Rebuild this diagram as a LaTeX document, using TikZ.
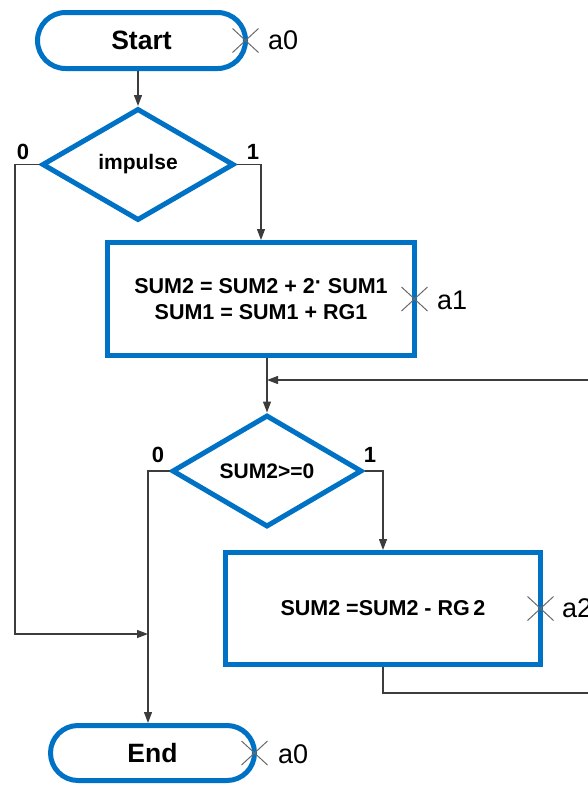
\documentclass[tikz,border=0pt]{standalone}
\usepackage{fontspec}
\setmainfont{Liberation Sans}
\usetikzlibrary{shapes.geometric,shapes.misc,arrows.meta}
\definecolor{flowblue}{RGB}{0,114,198}
\definecolor{wire}{RGB}{60,60,60}
\definecolor{crossgray}{RGB}{105,105,105}
\begin{document}
\begin{tikzpicture}[x=1pt,y=-1pt,
  terminal/.style={rounded rectangle,draw=flowblue,line width=5pt,minimum width=208pt,
    minimum height=56pt,inner sep=0pt,font=\fontsize{26.5}{30}\selectfont\bfseries},
  process/.style={rectangle,draw=flowblue,line width=5pt,minimum width=307pt,
    minimum height=113pt,inner sep=0pt,align=center,font=\fontsize{21.5}{26}\selectfont\bfseries},
  decision/.style={diamond,draw=flowblue,line width=5pt,minimum width=192pt,
    minimum height=112pt,inner sep=0pt,font=\fontsize{21}{24}\selectfont\bfseries},
  branch/.style={inner sep=0pt,font=\fontsize{22}{24}\selectfont\bfseries},
  state/.style={anchor=west,inner sep=0pt,font=\fontsize{27}{30}\selectfont},
  flow/.style={draw=wire,line width=1.3pt,-{Triangle[length=11pt,width=8pt]}},
  xcross/.pic={\draw[crossgray,line width=1pt] (-13,-12) -- (13,12) (-13,12) -- (13,-12);}
]
\clip (0,0) rectangle (588,785);

% blocks
\node[terminal] (start) at (141.5,40.5) {Start};
\node[decision] (d1) at (138,164.5) {impulse};
\node[process] (b1) at (261,299) {SUM2 = SUM2 + 2\raisebox{0.35ex}{·} SUM1\\SUM1 = SUM1 + RG1};
\node[decision,minimum width=190pt] (d2) at (267,471) {SUM2>=0};
\node[process,minimum width=315pt,minimum height=112pt] (b2) at (383,608.5) {SUM2 =SUM2 - RG\,2};
\node[terminal,minimum width=204pt,minimum height=55pt] (end) at (152.5,753) {End};

% branch labels
\node[branch] (d1no) at (23,152) {0};
\node[branch] (d1yes) at (253,152) {1};
\node[branch] (d2no) at (158,455) {0};
\node[branch] (d2yes) at (370,455) {1};

% state marks
\pic at ([xshift=-2.5pt]start.east) {xcross};
\pic at ([xshift=-2.5pt]b1.east) {xcross};
\pic at ([xshift=-2.5pt]b2.east) {xcross};
\pic at ([xshift=-2.5pt]end.east) {xcross};
\node[state] (s0) at (268,40) {a0};
\node[state] (s1) at (437,300) {a1};
\node[state] (s2) at (562,608) {a2};
\node[state] (s3) at (278,754) {a0};

% routing points
\coordinate (leftrail) at (15,634);
\coordinate (join) at (148,634);
\coordinate (loopbot) at (620,693);
\coordinate (loopin) at (267,380);

% connectors
\draw[flow] (start.south -| d1.north) -- (d1.north);
\draw[flow] (d1.east) -| (b1.north);
\draw[flow] (d1.west) -| (leftrail) -- (join);
\draw[flow] (b1.south -| d2.north) -- (d2.north);
\draw[flow] (d2.east) -| (b2.north);
\draw[flow] (d2.west) -| (join |- end.north);
\draw[flow] (b2.south) |- (loopbot) |- (loopin);
\end{tikzpicture}
\end{document}
